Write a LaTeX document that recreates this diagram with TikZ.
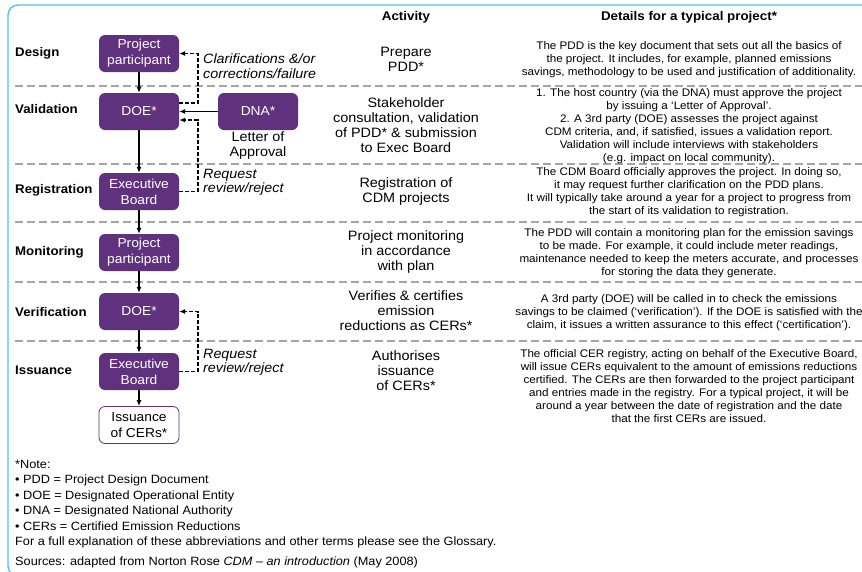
\documentclass[tikz,border=0pt]{standalone}
\usepackage{fontspec}
\setmainfont{Liberation Sans}[FakeStretch=1.06]
\usetikzlibrary{arrows.meta}
\definecolor{cdmpurple}{RGB}{96,50,125}
\definecolor{frameblue}{RGB}{80,195,240}
\definecolor{sepgray}{RGB}{165,165,165}
\begin{document}
\begin{tikzpicture}[x=1pt,y=-1pt,
  box/.style={fill=cdmpurple, text=white, rounded corners=6pt, minimum width=80pt, minimum height=37pt, inner sep=1pt, align=center, font=\fontsize{13}{16}\selectfont},
  wbox/.style={box, fill=white, draw=cdmpurple, line width=0.8pt, text=black},
  rowlab/.style={anchor=west, font=\bfseries\fontsize{12.5}{15}\selectfont, inner sep=0pt},
  act/.style={align=center, font=\fontsize{13.6}{15}\selectfont, inner sep=0pt},
  det/.style={align=center, font=\fontsize{11}{13}\selectfont, inner sep=0pt},
  hdr/.style={font=\bfseries\fontsize{12.6}{15}\selectfont, inner sep=0pt},
  sepline/.style={draw=sepgray, line width=1.6pt, dash pattern=on 8pt off 4pt},
  arr/.style={-{Latex[length=6pt,width=5pt]}, line width=1.2pt},
  fb/.style={arr, dash pattern=on 4pt off 2pt},
  fblab/.style={anchor=west, align=left, font=\itshape\fontsize{13.5}{14.5}\selectfont, inner sep=0pt}
]
\useasboundingbox (0,0) rectangle (862,571);
\fill[white] (0,0) rectangle (862,571);
% frame
\draw[frameblue, line width=1.4pt, rounded corners=10pt] (862,5) -- (8,5) -- (8,576) -- (30,576);
% headers
\node[hdr] (hact) at (406,17) {Activity};
\node[hdr] (hdet) at (689,17) {Details for a typical project*};
% separators
\foreach \yy in {86,164,222,282,341} \draw[sepline] (15,\yy) -- (862,\yy);
% row labels
\node[rowlab] (lDesign) at (15,53) {Design};
\node[rowlab] (lVal) at (15,109) {Validation};
\node[rowlab] (lReg) at (15,190) {Registration};
\node[rowlab] (lMon) at (15,252) {Monitoring};
\node[rowlab] (lVer) at (15,312) {Verification};
\node[rowlab] (lIss) at (15,370) {Issuance};
% boxes
\node[box] (PP1) at (139,53.5) {Project\\participant};
\node[box] (DOE1) at (139,111.5) {DOE*};
\node[box] (DNA) at (258,111.5) {DNA*};
\node[box] (EB1) at (139,191.5) {Executive\\Board};
\node[box] (PP2) at (139,252.5) {Project\\participant};
\node[box] (DOE2) at (139,311.5) {DOE*};
\node[box] (EB2) at (139,371.5) {Executive\\Board};
\node[wbox] (CER) at (139,425) {Issuance\\of CERs*};
\node[act] (loa) at (258,145.5) {Letter of\\Approval};
% vertical arrows
\draw[arr] (PP1) -- (DOE1);
\draw[arr] (DOE1) -- (EB1);
\draw[arr] (EB1) -- (PP2);
\draw[arr] (PP2) -- (DOE2);
\draw[arr] (DOE2) -- (EB2);
\draw[arr] (EB2) -- (CER);
\draw[arr] (DNA) -- (DOE1);
% feedback loops
\coordinate (fx) at (198,0);
\coordinate (d1a) at ([yshift=8.5pt]DOE1.east);
\coordinate (d1b) at ([yshift=-8.5pt]DOE1.east);
\draw[fb] (d1a) -- (d1a -| fx) |- (PP1.east);
\draw[fb] (EB1.east) -- (EB1.east -| fx) |- (d1b);
\draw[fb] (EB2.east) -- (EB2.east -| fx) |- (DOE2.east);
\node[fblab] (fl1) at (203,66) {Clarifications \&/or\\corrections/failure};
\node[fblab] (fl2) at (203,182.5) {Request\\review/reject};
\node[fblab] (fl3) at (203,362) {Request\\review/reject};
% activity column
\node[act] (a1) at (406,59) {Prepare\\PDD*};
\node[act] (a2) at (406,125.5) {Stakeholder\\consultation, validation\\of PDD* \& submission\\to Exec Board};
\node[act] (a3) at (406,191.5) {Registration of\\CDM projects};
\node[act] (a4) at (406,252) {Project monitoring\\in accordance\\with plan};
\node[act] (a5) at (406,311) {Verifies \& certifies\\emission\\reductions as CERs*};
\node[act] (a6) at (406,371) {Authorises\\issuance\\of CERs*};
% details column
\node[det] (d1) at (689,60) {The PDD is the key document that sets out all the basics of\\the project. It includes, for example, planned emissions\\savings, methodology to be used and justification of additionality.};
\node[det] (d2) at (689,126) {1. The host country (via the DNA) must approve the project\\by issuing a ‘Letter of Approval’.\\2. A 3rd party (DOE) assesses the project against\\CDM criteria, and, if satisfied, issues a validation report.\\Validation will include interviews with stakeholders\\(e.g. impact on local community).};
\node[det] (d3) at (689,192.5) {The CDM Board officially approves the project. In doing so,\\it may request further clarification on the PDD plans.\\It will typically take around a year for a project to progress from\\the start of its validation to registration.};
\node[det] (d4) at (689,253.5) {The PDD will contain a monitoring plan for the emission savings\\to be made. For example, it could include meter readings,\\maintenance needed to keep the meters accurate, and processes\\for storing the data they generate.};
\node[det] (d5) at (689,312.5) {A 3rd party (DOE) will be called in to check the emissions\\savings to be claimed (‘verification’). If the DOE is satisfied with the\\claim, it issues a written assurance to this effect (‘certification’).};
\node[det] (d6) at (689,386.5) {The official CER registry, acting on behalf of the Executive Board,\\will issue CERs equivalent to the amount of emissions reductions\\certified. The CERs are then forwarded to the project participant\\and entries made in the registry. For a typical project, it will be\\around a year between the date of registration and the date\\that the first CERs are issued.};
% notes
\node[anchor=north west, align=left, inner sep=0pt, font=\fontsize{12}{15.5}\selectfont] (notes) at (15,460) {*Note:\\• PDD = Project Design Document\\• DOE = Designated Operational Entity\\• DNA = Designated National Authority\\• CERs = Certified Emission Reductions\\For a full explanation of these abbreviations and other terms please see the Glossary.\\[4.5pt]Sources: adapted from Norton Rose \textit{CDM – an introduction} (May 2008)};
\end{tikzpicture}
\end{document}
